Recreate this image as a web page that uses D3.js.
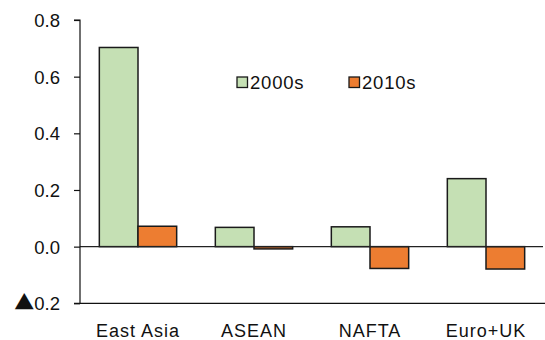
<!DOCTYPE html>
<html>
<head>
<meta charset="utf-8">
<script src="https://cdn.jsdelivr.net/npm/d3@7"></script>
<style>
  html, body { margin: 0; padding: 0; background: #fff; }
  svg { display: block; }
  text { font-family: "Liberation Sans", Arial, sans-serif; fill: #111; }
</style>
</head>
<body>
<svg id="chart" width="545" height="340"></svg>
<script>
// Regions and the two decades compared
const categories = ["East Asia", "ASEAN", "NAFTA", "Euro+UK"];
const seriesNames = ["2000s", "2010s"];
const values2000s = [0.703, 0.068, 0.070, 0.240];
const values2010s = [0.072, -0.008, -0.077, -0.079];
const yTicks = [-0.2, 0.0, 0.2, 0.4, 0.6, 0.8];
const seriesColors = ["#c5e0b4", "#ed7d31"];

const rows = categories.map((c, i) => ({
  category: c,
  values: [
    { series: seriesNames[0], value: values2000s[i] },
    { series: seriesNames[1], value: values2010s[i] }
  ]
}));

const svg = d3.select("#chart");
const plotLeft = 80, plotRight = 544, plotTop = 20, plotBottom = 303.3;

const x = d3.scaleBand().domain(categories).range([plotLeft, plotRight]).padding(0);
const xInner = d3.scaleBand().domain(seriesNames).range([0, x.bandwidth()])
  .paddingInner(0).paddingOuter(0.5);
const y = d3.scaleLinear().domain([-0.2, 0.8]).range([plotBottom, plotTop]);
const color = d3.scaleOrdinal().domain(seriesNames).range(seriesColors);

const num = d3.format(".1f");

// Bars
const groups = svg.append("g").selectAll("g").data(rows).join("g")
  .attr("transform", d => `translate(${x(d.category)},0)`);
groups.selectAll("rect").data(d => d.values).join("rect")
  .attr("x", d => xInner(d.series))
  .attr("width", xInner.bandwidth())
  .attr("y", d => y(Math.max(0, d.value)))
  .attr("height", d => Math.abs(y(d.value) - y(0)))
  .attr("fill", d => color(d.series))
  .attr("stroke", "#1a1a1a")
  .attr("stroke-width", 1.5);

// Zero line
svg.append("line")
  .attr("x1", plotLeft).attr("x2", plotRight - 1)
  .attr("y1", y(0)).attr("y2", y(0))
  .attr("stroke", "#222").attr("stroke-width", 1.2);

// Bottom line
svg.append("line")
  .attr("x1", plotLeft - 6).attr("x2", 545)
  .attr("y1", y(-0.2)).attr("y2", y(-0.2))
  .attr("stroke", "#111").attr("stroke-width", 1.2);

// Y axis; negative values are written with a leading ▲ instead of a minus sign
const yAxis = svg.append("g")
  .attr("transform", `translate(${plotLeft},0)`)
  .call(d3.axisLeft(y).tickValues(yTicks).tickFormat(v => num(Math.abs(v))).tickSize(6).tickPadding(14));
yAxis.select(".domain").attr("stroke", "#111").attr("stroke-width", 1.2)
  .attr("d", `M-6,${plotTop}H0V${plotBottom}`);
yAxis.selectAll(".tick line").attr("stroke", "#111").attr("stroke-width", 1.2);
yAxis.selectAll(".tick text")
  .style("font-family", '"Liberation Sans", Arial, sans-serif')
  .attr("font-size", 18.5).attr("fill", "#111").attr("dy", "0.35em")
  .each(function(v) {
    if (v < 0) {
      const t = d3.select(this);
      const label = t.text();
      t.text(null);
      t.append("tspan")
        .style("font-family", '"Noto Sans CJK JP", "DejaVu Sans", sans-serif')
        .attr("font-size", 20)
        .text("▲");
      t.append("tspan").text(label);
    }
  });

// Category labels
svg.append("g").selectAll("text").data(categories).join("text")
  .attr("x", d => x(d) + x.bandwidth() / 2)
  .attr("y", 336.5)
  .attr("text-anchor", "middle")
  .attr("font-size", 18)
  .attr("letter-spacing", 1)
  .text(d => d);

// Legend
const legendX = [237, 349];
const legend = svg.append("g").selectAll("g").data(seriesNames).join("g")
  .attr("transform", (d, i) => `translate(${legendX[i]},77)`);
legend.append("rect")
  .attr("width", 10.5).attr("height", 10.5)
  .attr("fill", d => color(d))
  .attr("stroke", "#1a1a1a").attr("stroke-width", 1.3);
legend.append("text")
  .attr("x", 13).attr("y", 12.2)
  .attr("font-size", 18.5)
  .attr("letter-spacing", 0.8)
  .text(d => d);
</script>
</body>
</html>
